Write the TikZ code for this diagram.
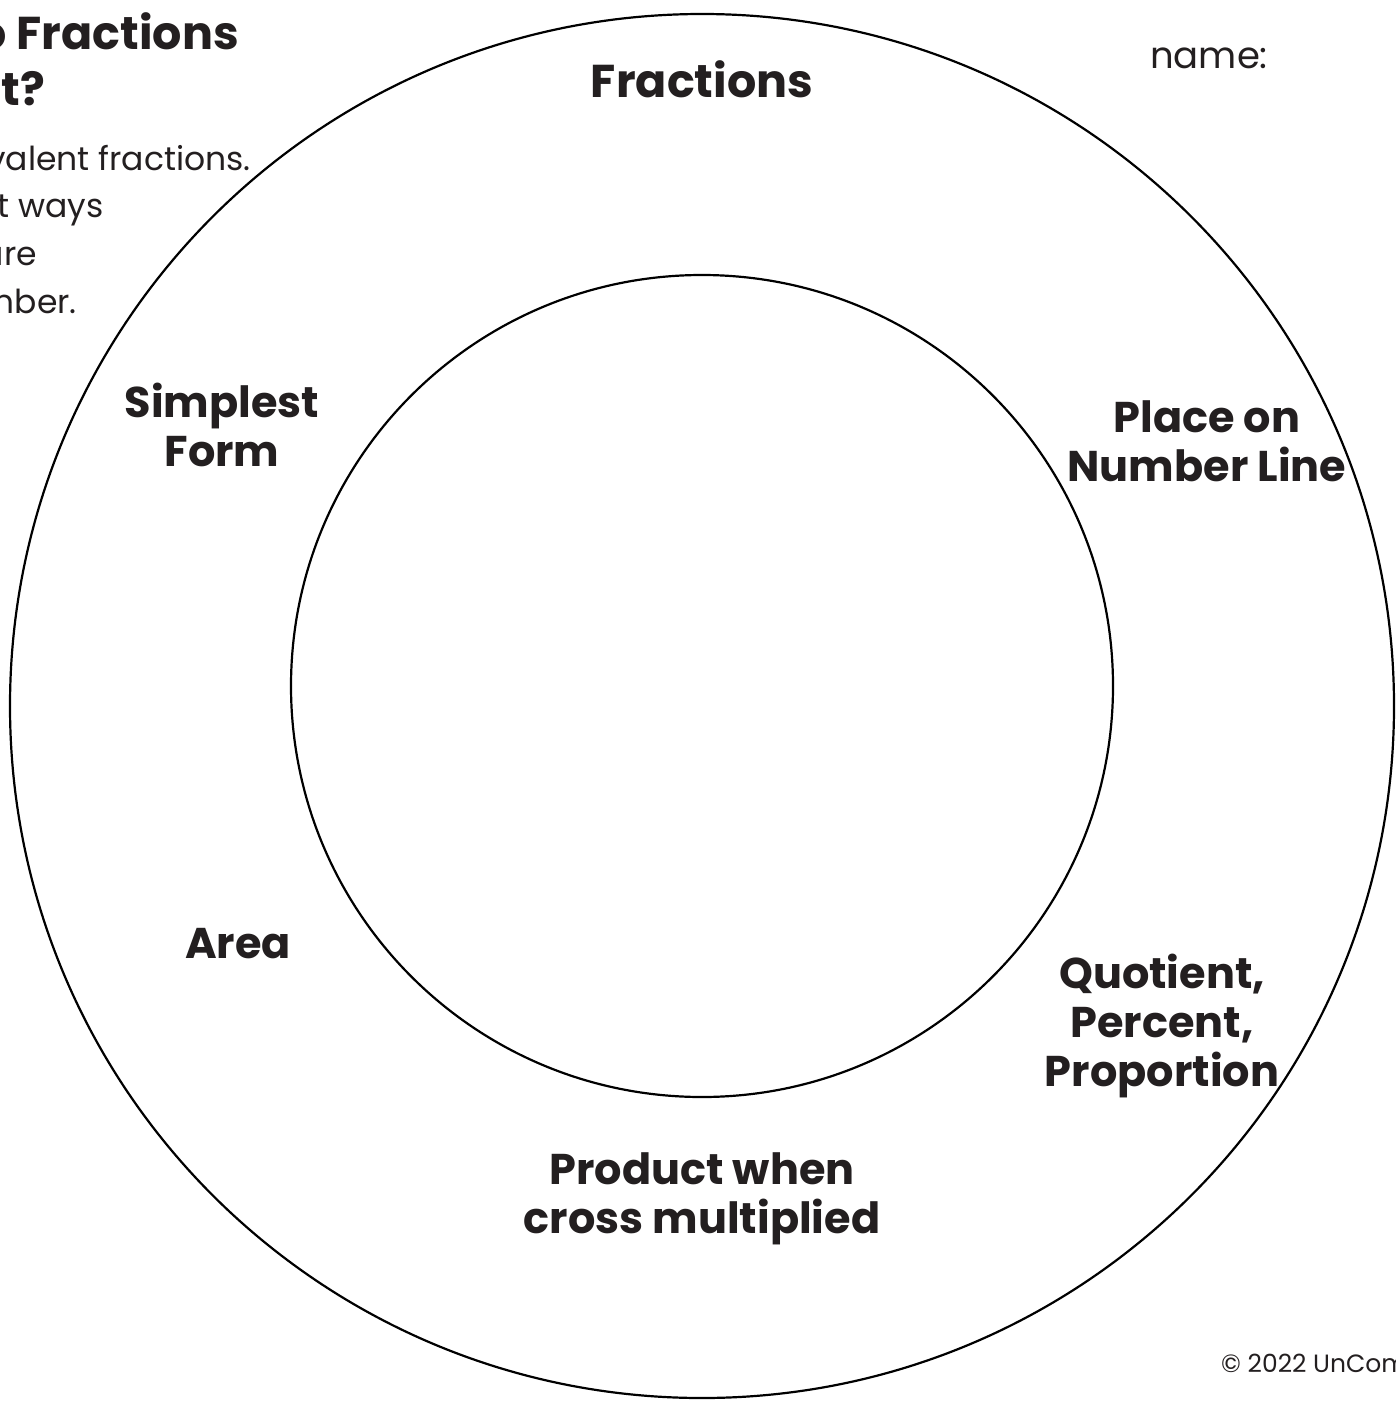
\documentclass[tikz,border=0pt]{standalone}
\usepackage{fontspec}
\setmainfont{Poppins}
\definecolor{ink}{HTML}{231F20}
\begin{document}
\begin{tikzpicture}[x=1pt,y=-1pt,
  ring/.style={draw=black,line width=2.2pt},
  label/.style={font=\fontsize{43}{49}\selectfont\bfseries,text=ink,align=center,inner sep=0pt,anchor=base},
  body/.style={font=\fontsize{33}{48}\selectfont,text=ink,inner sep=0pt},
  head/.style={font=\fontsize{46}{55}\selectfont\bfseries,text=ink,inner sep=0pt}]
\useasboundingbox (0,0) rectangle (1395,1405);
\clip (0,0) rectangle (1395,1405);
\fill[white] (0,0) rectangle (1395,1405);

% rings
\draw[ring] (702,706) circle[radius=692];
\draw[ring] (702,686) circle[radius=411];

% heading and intro text on the left edge
\node[head,anchor=base east] (h1) at (239,50) {Two Fractions};
\node[head,anchor=base east] (h2) at (45,105) {Equivalent?};
\node[body,anchor=base east] (b1) at (251,170) {equivalent fractions.};
\node[body,anchor=base east] (b2) at (104,217) {different ways};
\node[body,anchor=base east] (b3) at (37,265) {that are};
\node[body,anchor=base east] (b4) at (77,313) {the same number.};

% name field and footer
\node[body,anchor=base west,font=\fontsize{37}{40}\selectfont] (name) at (1150,68) {name:};
\node[body,anchor=base west,font=\fontsize{25}{28}\selectfont] (copy) at (1221,1372) {© 2022 UnCommon};

% labels (anchored at the baseline of their last line)
\node[label,font=\fontsize{46}{55}\selectfont\bfseries] (title) at (702,97) {Fractions};
\node[label] (simp) at (222,466) {Simplest\\Form};
\node[label] (place) at (1207,481) {Place on\\Number Line};
\node[label] (area) at (238,958) {Area};
\node[label] (quot) at (1162,1086) {Quotient,\\Percent,\\Proportion};
\node[label] (prod) at (702,1233) {Product when\\cross multiplied};
\end{tikzpicture}
\end{document}
